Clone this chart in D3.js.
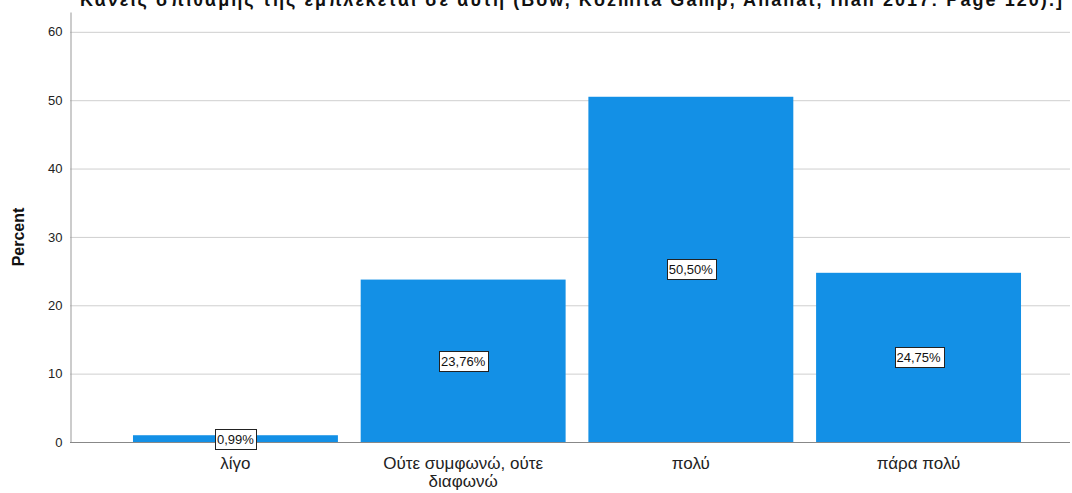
<!DOCTYPE html>
<html>
<head>
<meta charset="utf-8">
<script src="https://cdn.jsdelivr.net/npm/d3@7"></script>
<style>
  html, body { margin: 0; padding: 0; background: #fff; }
  svg { display: block; font-family: "Liberation Sans", Arial, sans-serif; }
</style>
</head>
<body>
<svg id="chart" width="1072" height="493"></svg>
<script>
// Response categories and their percentages
const categories = ["λίγο", "Ούτε συμφωνώ, ούτε διαφωνώ", "πολύ", "πάρα πολύ"];
const categoryLines = [["λίγο"], ["Ούτε συμφωνώ, ούτε", "διαφωνώ"], ["πολύ"], ["πάρα πολύ"]];
const percents = [0.99, 23.76, 50.50, 24.75];
const yTicks = [0, 10, 20, 30, 40, 50, 60];
const titleText = "Κανείς σπιθαμής της εμπλέκεται σε αυτή (Bow, Kozmita Gamp, Ananat, Inah 2017: Page 120).]";

const svg = d3.select("#chart");
const plotLeft = 70, plotRight = 1070, plotTop = 12, plotBottom = 442;

const y = d3.scaleLinear().domain([0, 62.9]).range([plotBottom, plotTop]);
const x = d3.scaleBand().domain(categories).range([121.6, 1032.4])
  .paddingInner(0.1).paddingOuter(0.05);

// Title (runs off the top edge)
svg.append("text")
  .attr("x", 80).attr("y", 6)
  .attr("font-size", 18).attr("font-weight", "bold")
  .attr("textLength", 982).attr("lengthAdjust", "spacing")
  .attr("fill", "#111")
  .text(titleText);

// Horizontal gridlines
svg.append("g").selectAll("line")
  .data(yTicks.filter(d => d > 0))
  .join("line")
  .attr("x1", plotLeft).attr("x2", plotRight)
  .attr("y1", d => y(d) + 0.5).attr("y2", d => y(d) + 0.5)
  .attr("stroke", "#cfcfcf").attr("stroke-width", 1);

// Y axis
const yAxis = svg.append("g")
  .attr("transform", `translate(${plotLeft + 0.5},0)`)
  .call(d3.axisLeft(y).tickValues(yTicks).tickSize(0).tickPadding(8));
yAxis.select(".domain").attr("stroke", "#999");
yAxis.selectAll("text").attr("font-size", 13).attr("fill", "#222")
  .attr("font-family", "Liberation Sans, Arial, sans-serif");

// Bars
svg.append("g").selectAll("rect")
  .data(percents)
  .join("rect")
  .attr("x", (d, i) => x(categories[i]))
  .attr("width", x.bandwidth())
  .attr("y", d => y(d))
  .attr("height", d => y(0) - y(d))
  .attr("fill", "#1390e6");

// X axis baseline
svg.append("line")
  .attr("x1", plotLeft).attr("x2", plotRight)
  .attr("y1", plotBottom + 0.5).attr("y2", plotBottom + 0.5)
  .attr("stroke", "#888");

// Category labels
const catG = svg.append("g");
categoryLines.forEach((lines, i) => {
  const cx = x(categories[i]) + x.bandwidth() / 2;
  const t = catG.append("text")
    .attr("x", cx)
    .attr("y", 469)
    .attr("text-anchor", "middle")
    .attr("font-size", 17).attr("fill", "#222");
  lines.forEach((ln, j) => {
    t.append("tspan")
      .attr("x", cx)
      .attr("dy", j === 0 ? 0 : 18)
      .text(ln);
  });
});

// Value labels in boxes
const fmt = v => v.toFixed(2).replace(".", ",") + "%";
const labG = svg.append("g");
percents.forEach((v, i) => {
  const cx = x(categories[i]) + x.bandwidth() / 2;
  const cy = y(v / 2);
  const g = labG.append("g");
  const txt = g.append("text")
    .attr("x", cx).attr("y", cy + 5)
    .attr("text-anchor", "middle")
    .attr("font-size", 13).attr("fill", "#111")
    .text(fmt(v));
  const bb = txt.node().getBBox();
  g.insert("rect", "text")
    .attr("x", Math.round(bb.x - 2) + 0.5)
    .attr("y", Math.round(cy - 10) + 0.5)
    .attr("width", Math.round(bb.width + 4))
    .attr("height", 20)
    .attr("fill", "#fff")
    .attr("stroke", "#222").attr("stroke-width", 1);
});

// Y axis title
svg.append("text")
  .attr("transform", `translate(24,${(plotTop + plotBottom) / 2 + 10}) rotate(-90)`)
  .attr("text-anchor", "middle")
  .attr("font-size", 16).attr("font-weight", "bold")
  .attr("fill", "#111")
  .text("Percent");
</script>
</body>
</html>
